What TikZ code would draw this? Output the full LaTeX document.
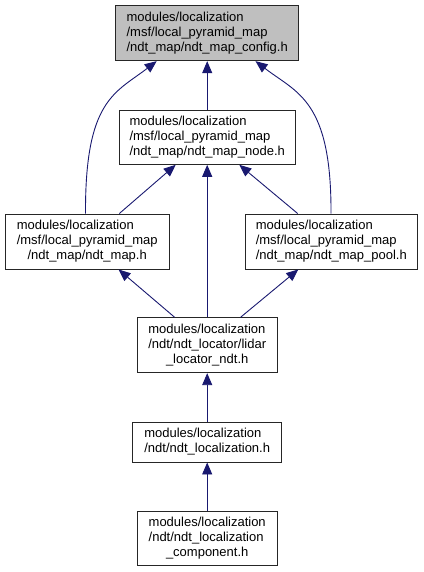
\documentclass[tikz,border=0pt]{standalone}
\usepackage{fontspec}
\setmainfont{Liberation Sans}
\usetikzlibrary{arrows.meta}
\definecolor{edgeblue}{HTML}{191970}
\definecolor{topgray}{HTML}{BFBFBF}
\begin{document}
\begin{tikzpicture}[x=1pt,y=-1pt,
  file/.style={draw=black!85,line width=0.9pt,fill=white,inner sep=0pt,
    font=\fontsize{13}{15}\selectfont},
  dep/.style={draw=edgeblue,line width=0.9pt,-{Triangle[length=12pt,width=10pt]}}]
\useasboundingbox (0,0) rectangle (423,572);

\node[file,fill=topgray,minimum width=183pt,minimum height=55pt] (n1) at (207.2,33.2)
  {\begin{tabular}{@{}l@{}}modules/localization\\/msf/local\_pyramid\_map\\\multicolumn{1}{@{}c@{}}{/ndt\_map/ndt\_map\_config.h}\end{tabular}};
\node[file,minimum width=176.3pt,minimum height=54.3pt] (n2) at (207.2,137.2)
  {\begin{tabular}{@{}l@{}}modules/localization\\/msf/local\_pyramid\_map\\\multicolumn{1}{@{}c@{}}{/ndt\_map/ndt\_map\_node.h}\end{tabular}};
\node[file,minimum width=164.3pt,minimum height=55pt] (n3) at (87.2,241.5)
  {\begin{tabular}{@{}l@{}}modules/localization\\/msf/local\_pyramid\_map\\\multicolumn{1}{@{}c@{}}{/ndt\_map/ndt\_map.h}\end{tabular}};
\node[file,minimum width=172pt,minimum height=55pt] (n4) at (331.3,241.5)
  {\begin{tabular}{@{}l@{}}modules/localization\\/msf/local\_pyramid\_map\\\multicolumn{1}{@{}c@{}}{/ndt\_map/ndt\_map\_pool.h}\end{tabular}};
\node[file,minimum width=140pt,minimum height=55pt] (n5) at (207.2,345.2)
  {\begin{tabular}{@{}l@{}}modules/localization\\/ndt/ndt\_locator/lidar\\\multicolumn{1}{@{}c@{}}{\_locator\_ndt.h}\end{tabular}};
\node[file,minimum width=149.4pt,minimum height=40pt] (n6) at (207.2,442)
  {\begin{tabular}{@{}l@{}}modules/localization\\\multicolumn{1}{@{}c@{}}{/ndt/ndt\_localization.h}\end{tabular}};
\node[file,minimum width=140pt,minimum height=54.7pt] (n7) at (207.2,538.3)
  {\begin{tabular}{@{}l@{}}modules/localization\\/ndt/ndt\_localization\\\multicolumn{1}{@{}c@{}}{\_component.h}\end{tabular}};

\draw[dep] (n2.north) -- (n1.south);
\draw[dep] ([xshift=-1.7pt]n3.north) .. controls (85,100) and (115,93) .. ([xshift=-50.5pt]n1.south);
\draw[dep] ([xshift=-0.3pt]n4.north) .. controls (331.5,100) and (297,93) .. ([xshift=48.3pt]n1.south);
\draw[dep] ([xshift=32.1pt]n3.north) -- ([xshift=-31.5pt]n2.south);
\draw[dep] ([xshift=-33.6pt]n4.north) -- ([xshift=32.1pt]n2.south);
\draw[dep] (n5.north) -- (n2.south);
\draw[dep] ([xshift=-32.6pt]n5.north) -- ([xshift=31.3pt]n3.south);
\draw[dep] ([xshift=33.4pt]n5.north) -- ([xshift=-33pt]n4.south);
\draw[dep] (n6.north) -- (n5.south);
\draw[dep] (n7.north) -- (n6.south);
\end{tikzpicture}
\end{document}
